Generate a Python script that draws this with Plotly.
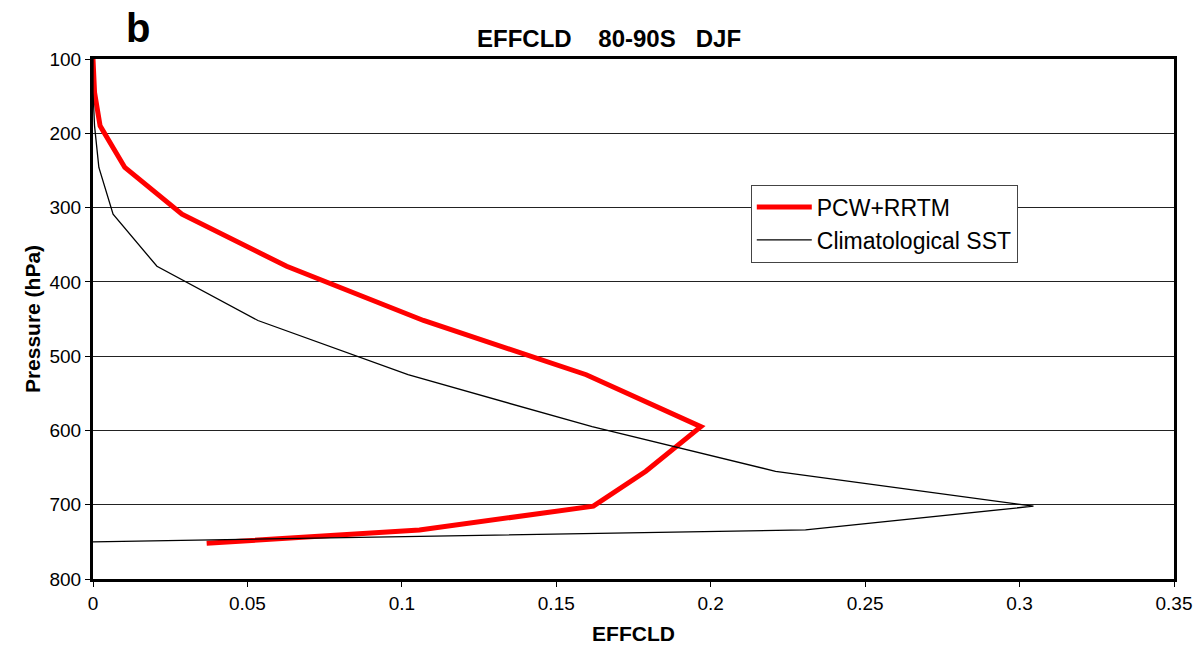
import plotly.graph_objects as go

pressure_red = [100, 145, 190, 246, 309, 379, 452, 525, 595, 655, 702, 734, 752]
effcld_red = [0.0, 0.0005, 0.0023, 0.0103, 0.0288, 0.0627, 0.107, 0.1597, 0.1968, 0.179, 0.162, 0.1057, 0.0368]

pressure_blk = [100, 145, 190, 246, 309, 379, 452, 525, 595, 655, 702, 734, 750]
effcld_blk = [0.0, 0.0, 0.0005, 0.0019, 0.0065, 0.0207, 0.0534, 0.102, 0.1616, 0.221, 0.3045, 0.2307, 0.0]

x_ticks = [0, 0.05, 0.1, 0.15, 0.2, 0.25, 0.3, 0.35]
x_ticklabels = ["0", "0.05", "0.1", "0.15", "0.2", "0.25", "0.3", "0.35"]
y_ticks = [100, 200, 300, 400, 500, 600, 700, 800]

FONT = "Liberation Sans, Arial, sans-serif"
L, R, T, B = 93, 1176, 59, 581
PW, PH = R - L, B - T

fig = go.Figure()
fig.add_trace(go.Scatter(x=effcld_red, y=pressure_red, mode="lines", name="PCW+RRTM",
                         line=dict(color="#ff0000", width=5)))
fig.add_trace(go.Scatter(x=effcld_blk, y=pressure_blk, mode="lines", name="Climatological SST",
                         line=dict(color="#000000", width=1.3)))

title_txt = "<b>EFFCLD\u00a0\u00a0\u00a0\u00a080-90S\u00a0\u00a0\u00a0DJF</b>"

fig.update_layout(
    width=1204, height=654,
    margin=dict(l=L, r=1204 - R, t=T, b=654 - B),
    paper_bgcolor="white", plot_bgcolor="white",
    font=dict(family=FONT, size=19, color="black"),
    showlegend=True,
    legend=dict(x=(752 - L) / PW, y=(B - 185) / PH, xanchor="left", yanchor="top",
                bgcolor="white", bordercolor="#444", borderwidth=1,
                font=dict(size=23, family=FONT), itemwidth=55),
    annotations=[
        dict(text="<b>b</b>", x=(138 - L) / PW, y=(B - 28) / PH, xref="paper", yref="paper",
             xanchor="center", yanchor="middle", showarrow=False,
             font=dict(size=40, family=FONT)),
        dict(text=title_txt, x=(610 - L) / PW, y=(B - 38.5) / PH, xref="paper", yref="paper",
             xanchor="center", yanchor="middle", showarrow=False,
             font=dict(size=24, family=FONT)),
    ],
)
fig.update_xaxes(range=[0, 0.35], tickvals=x_ticks, ticktext=x_ticklabels,
                 showgrid=False, zeroline=False,
                 showline=True, linecolor="black", linewidth=3, mirror=True,
                 ticks="outside", ticklen=5, tickcolor="black", tickwidth=1,
                 title=dict(text="<b>EFFCLD</b>", font=dict(size=21), standoff=14))
fig.update_yaxes(range=[800, 100], tickvals=y_ticks,
                 showgrid=True, gridcolor="#222", gridwidth=1, zeroline=False,
                 showline=True, linecolor="black", linewidth=3, mirror=True,
                 ticks="outside", ticklen=5, tickcolor="black", tickwidth=1,
                 title=dict(text="<b>Pressure (hPa)</b>", font=dict(size=21), standoff=4))

fig.write_html("out.html")
